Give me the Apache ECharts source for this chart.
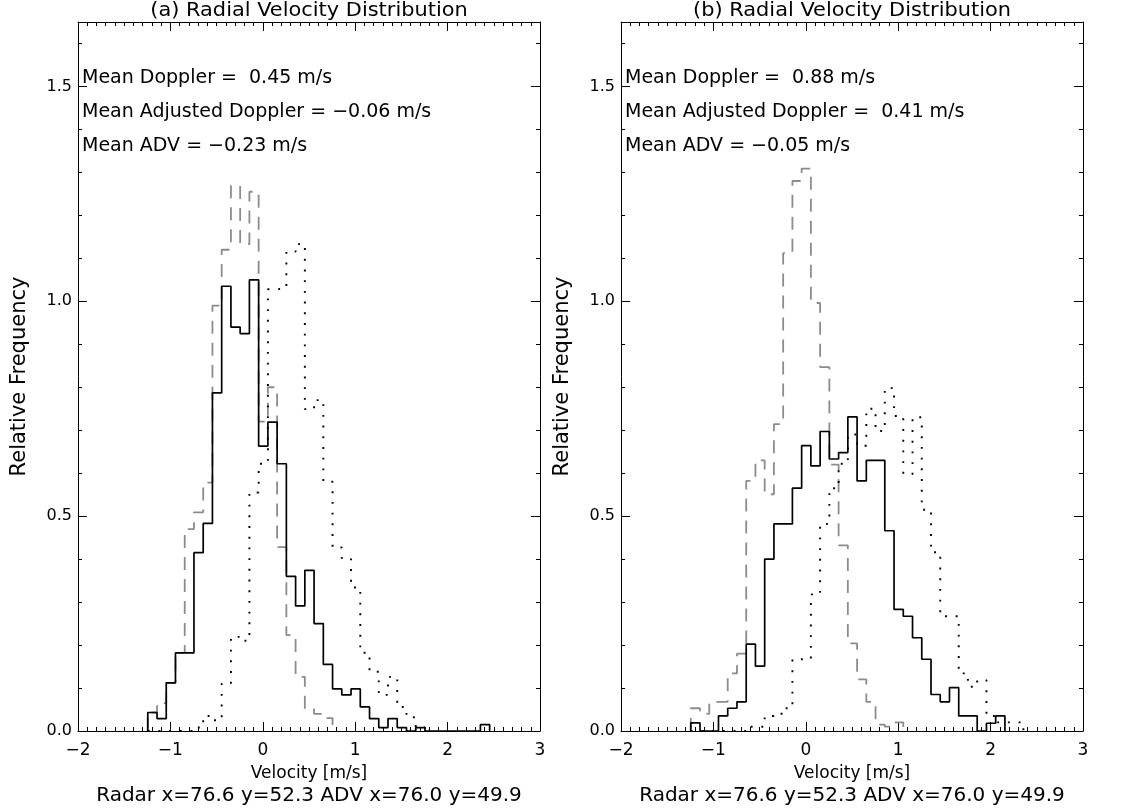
<!DOCTYPE html>
<html>
<head>
<meta charset="utf-8">
<script src="https://cdn.jsdelivr.net/npm/echarts@6/dist/echarts.min.js"></script>
<style>
html,body{margin:0;padding:0;background:#fff;}
#chart{width:1136px;height:810px;}
</style>
</head>
<body>
<div id="chart"></div>
<script>
// ---- data ----
const binStart = -1.245;   // left edge of first velocity bin [m/s]
const binWidth = 0.1;      // bin width [m/s]

const solidA  = [0.043,0.029,0.112,0.182,0.182,0.415,0.483,0.787,1.035,0.94,0.925,1.05,0.663,0.719,0.622,0.36,0.291,0.374,0.25,0.155,0.098,0.084,0.098,0.056,0.029,0.008,0.029,0.008,0,0.008,0,0,0,0,0,0,0.015];
const dashedA = [0.043,0.065,0.112,0.182,0.47,0.509,0.578,0.99,1.12,1.269,1.133,1.255,0.72,0.8,0.428,0.223,0.126,0.05,0.04,0.03];
const dottedA = [0,0,0,0,0,0.008,0.035,0.025,0.11,0.219,0.21,0.555,0.622,1.028,1.03,1.116,1.133,0.749,0.77,0.58,0.427,0.40,0.334,0.182,0.138,0.084,0.126,0.056,0.032,0.008];

const solidB  = [0.019,0,0,0.035,0.053,0.068,0.202,0.151,0.40,0.482,0.482,0.565,0.664,0.617,0.697,0.633,0.648,0.731,0.582,0.63,0.63,0.466,0.283,0.267,0.217,0.167,0.085,0.068,0.101,0.035,0.035,0,0.018,0.035];
const dashedB = [0.053,0.04,0.068,0.068,0.134,0.18,0.582,0.63,0.551,0.714,1.112,1.28,1.309,0.996,0.847,0.62,0.432,0.204,0.12,0.068,0.015,0.01,0.02];
const dottedB = [0,0,0,0,0,0,0.01,0.01,0.035,0.04,0.053,0.167,0.167,0.318,0.482,0.565,0.622,0.69,0.664,0.75,0.698,0.798,0.733,0.598,0.73,0.515,0.416,0.267,0.267,0.134,0.103,0.118,0.035,0.02,0.02,0.02];

const titles = ['(a) Radial Velocity Distribution', '(b) Radial Velocity Distribution'];
const notesA = ['Mean Doppler =  0.45 m/s', 'Mean Adjusted Doppler = \u22120.06 m/s', 'Mean ADV = \u22120.23 m/s'];
const notesB = ['Mean Doppler =  0.88 m/s', 'Mean Adjusted Doppler =  0.41 m/s', 'Mean ADV = \u22120.05 m/s'];
const footer = 'Radar x=76.6 y=52.3 ADV x=76.0 y=49.9';
const xRange = [-2, 3];
const yRange = [0, 1.65];

// ---- build ----
function stepPoints(vals) {
  const pts = [[binStart, 0]];
  vals.forEach((v, i) => pts.push([+(binStart + i * binWidth).toFixed(4), v]));
  pts.push([+(binStart + vals.length * binWidth).toFixed(4), 0]);
  return pts;
}

const FONT = 'DejaVu Sans';
const panels = [
  {left: 78, notes: notesA, data: [solidA, dashedA, dottedA]},
  {left: 621, notes: notesB, data: [solidB, dashedB, dottedB]}
];
const gTop = 22, gH = 709, gW = 462;

const grid = [], xAxis = [], yAxis = [], series = [], graphic = [];
const fmtX = v => v < 0 ? '\u2212' + (-v) : String(v);

panels.forEach((p, k) => {
  grid.push({left: p.left, top: gTop, width: gW, height: gH, containLabel: false});
  const axLine = {show: true, onZero: false, lineStyle: {color: '#000', width: 1}};
  const noLine = {show: false, onZero: false};
  // bottom x
  xAxis.push({gridIndex: k, type: 'value', min: xRange[0], max: xRange[1], interval: 1, position: 'bottom',
    axisLine: axLine, splitLine: {show: false},
    axisTick: {show: true, inside: true, length: 9, lineStyle: {color: '#000'}},
    minorTick: {show: true, splitNumber: 10, length: 4, lineStyle: {color: '#000'}},
    axisLabel: {show: true, color: '#000', fontFamily: FONT, fontSize: 17, margin: 11, formatter: fmtX},
    name: 'Velocity [m/s]', nameLocation: 'middle', nameGap: 34,
    nameTextStyle: {color: '#000', fontFamily: FONT, fontSize: 17}});
  // top x (mirror)
  xAxis.push({gridIndex: k, type: 'value', min: xRange[0], max: xRange[1], interval: 1, position: 'top',
    axisLine: axLine, splitLine: {show: false},
    axisTick: {show: true, inside: true, length: 9, lineStyle: {color: '#000'}},
    minorTick: {show: true, splitNumber: 10, length: 4, lineStyle: {color: '#000'}},
    axisLabel: {show: false}});
  // left y major (labels)
  yAxis.push({gridIndex: k, type: 'value', min: yRange[0], max: yRange[1], interval: 0.5, position: 'left',
    axisLine: axLine, splitLine: {show: false},
    axisTick: {show: true, inside: true, length: 9, lineStyle: {color: '#000'}},
    axisLabel: {show: true, color: '#000', fontFamily: FONT, fontSize: 16, margin: 6, showMaxLabel: false,
      formatter: v => v.toFixed(1)},
    name: 'Relative Frequency', nameLocation: 'middle', nameGap: 48, nameRotate: 90,
    nameTextStyle: {color: '#000', fontFamily: FONT, fontSize: 21}});
  // left y minor
  yAxis.push({gridIndex: k, type: 'value', min: yRange[0], max: yRange[1], interval: 0.1, position: 'left',
    axisLine: noLine, splitLine: {show: false},
    axisTick: {show: true, inside: true, length: 4, lineStyle: {color: '#000'}},
    axisLabel: {show: false}});
  // right y major
  yAxis.push({gridIndex: k, type: 'value', min: yRange[0], max: yRange[1], interval: 0.5, position: 'right',
    axisLine: axLine, splitLine: {show: false},
    axisTick: {show: true, inside: true, length: 9, lineStyle: {color: '#000'}},
    axisLabel: {show: false}});
  // right y minor
  yAxis.push({gridIndex: k, type: 'value', min: yRange[0], max: yRange[1], interval: 0.1, position: 'right',
    axisLine: noLine, splitLine: {show: false},
    axisTick: {show: true, inside: true, length: 4, lineStyle: {color: '#000'}},
    axisLabel: {show: false}});

  const styles = [
    {color: '#000', width: 1.7, type: 'solid'},
    {color: '#8c8c8c', width: 1.8, type: [13, 9]},
    {color: '#000', width: 1.9, type: [1.9, 8.8]}
  ];
  const order = [1, 2, 0];
  order.forEach(si => {
    series.push({type: 'line', xAxisIndex: 2 * k, yAxisIndex: 4 * k, step: 'end',
      data: stepPoints(p.data[si]), showSymbol: false, symbol: 'none', animation: false,
      silent: true, clip: true,
      lineStyle: {color: styles[si].color, width: styles[si].width, type: styles[si].type, cap: 'butt'}});
  });

  const cx = p.left + gW / 2;
  graphic.push({type: 'text', x: cx, y: 11, scaleX: 1.1, style: {text: titles[k], fill: '#000', font: '19px "' + FONT + '"', textAlign: 'center', textVerticalAlign: 'middle'}});
  p.notes.forEach((t, i) => {
    graphic.push({type: 'text', x: p.left + 4, y: 78 + i * 34, style: {text: t, fill: '#000', font: '19px "' + FONT + '"', textAlign: 'left', textVerticalAlign: 'middle'}});
  });
  graphic.push({type: 'text', x: cx, y: 796, style: {text: footer, fill: '#000', font: '20px "' + FONT + '"', textAlign: 'center', textVerticalAlign: 'middle'}});
});

const chart = echarts.init(document.getElementById('chart'), null, {renderer: 'canvas'});
chart.setOption({
  backgroundColor: '#fff',
  animation: false,
  grid, xAxis, yAxis, series, graphic
});
</script>
</body>
</html>
